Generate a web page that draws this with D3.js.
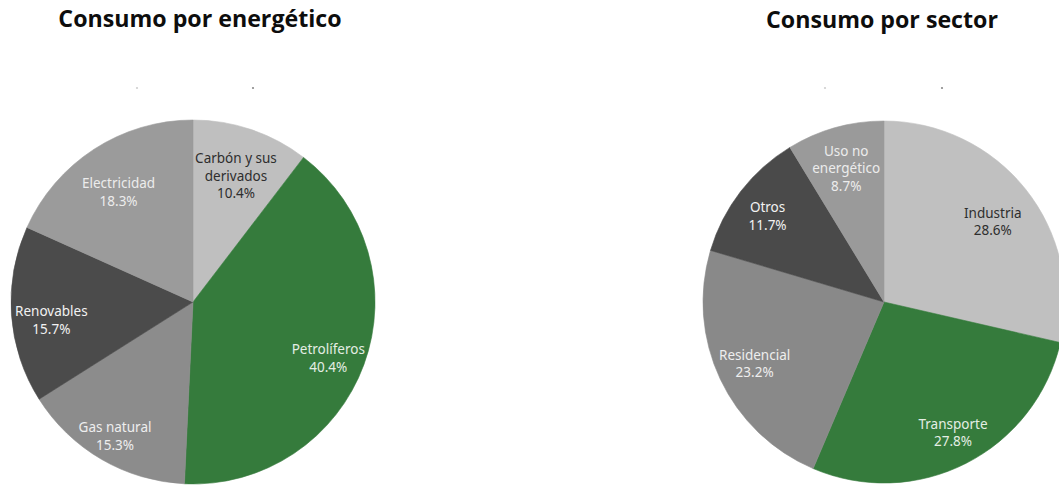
<!DOCTYPE html>
<html lang="es">
<head>
<meta charset="utf-8">
<script src="https://cdn.jsdelivr.net/npm/d3@7"></script>
<style>
  html, body { margin: 0; padding: 0; background: #ffffff; }
  svg { display: block; }
</style>
</head>
<body>
<svg id="chart" width="1059" height="486"></svg>
<script>
// Consumo por energético
const energeticos = ["Carbón y sus derivados", "Petrolíferos", "Gas natural", "Renovables", "Electricidad"];
const energeticoLines = [["Carbón y sus", "derivados"], ["Petrolíferos"], ["Gas natural"], ["Renovables"], ["Electricidad"]];
const energeticoValores = [10.4, 40.4, 15.3, 15.7, 18.3];

// Consumo por sector
const sectores = ["Industria", "Transporte", "Residencial", "Otros", "Uso no energético"];
const sectorLines = [["Industria"], ["Transporte"], ["Residencial"], ["Otros"], ["Uso no", "energético"]];
const sectorValores = [28.6, 27.8, 23.2, 11.7, 8.7];

// slice and label styling
const energeticoColores = ["#bfbfbf", "#357b3c", "#8c8c8c", "#4b4b4b", "#9b9b9b"];
const energeticoTexto = ["#2e2e2e", "#e4eee4", "#eeeeee", "#f2f2f2", "#ececec"];
const sectorColores = ["#c0c0c0", "#357b3c", "#898989", "#4a4a4a", "#9a9a9a"];
const sectorTexto = ["#2e2e2e", "#e4eee4", "#eeeeee", "#f2f2f2", "#ececec"];

// label placement: distance from the pie centre and a small vertical nudge
const energeticoLabelR = [134, 144, 155, 142, 137];
const energeticoLabelDy = [1, 7, 0, 8, 5];
const sectorLabelR = [139, 152, 143, 147, 140];
const sectorLabelDy = [6, -5, 1, 4, 1];

const svg = d3.select("#chart");

function drawPie(cfg) {
  const g = svg.append("g").attr("transform", `translate(${cfg.cx},${cfg.cy})`);

  const pie = d3.pie().sort(null).value(d => d.value);
  const arc = d3.arc().innerRadius(0).outerRadius(cfg.r);

  const data = cfg.names.map((n, i) => ({
    name: n, lines: cfg.lines[i], value: cfg.values[i],
    fill: cfg.colors[i], ink: cfg.ink[i], lr: cfg.labelR[i], ldy: cfg.labelDy[i]
  }));
  const arcs = pie(data);

  g.selectAll("path.slice")
    .data(arcs)
    .join("path")
    .attr("class", "slice")
    .attr("d", arc)
    .attr("fill", d => d.data.fill)
    .attr("stroke", d => d.data.fill)
    .attr("stroke-width", 0.6);

  const lineH = 17.5;
  const fs = 13.5;
  const labels = g.selectAll("text.lbl")
    .data(arcs)
    .join("text")
    .attr("class", "lbl")
    .attr("text-anchor", "middle")
    .attr("font-family", "'Noto Sans', 'Open Sans', sans-serif")
    .attr("font-size", fs)
    .attr("fill", d => d.data.ink)
    .attr("transform", d => {
      const la = d3.arc().innerRadius(d.data.lr).outerRadius(d.data.lr);
      const [x, y] = la.centroid(d);
      const n = d.data.lines.length + 1;
      return `translate(${x},${y + d.data.ldy - (n - 1) * lineH / 2 + fs * 0.36})`;
    });

  labels.each(function(d) {
    const t = d3.select(this);
    const rows = d.data.lines.concat([d3.format(".1f")(d.data.value) + "%"]);
    rows.forEach((row, i) => {
      t.append("tspan").attr("x", 0).attr("y", i * lineH).text(row);
    });
  });

  svg.append("text")
    .attr("x", cfg.titleX)
    .attr("y", cfg.titleY)
    .attr("text-anchor", "middle")
    .attr("font-family", "'Open Sans', Lato, sans-serif")
    .attr("font-weight", 700)
    .attr("font-size", 23.2)
    .attr("fill", "#0d0d0d")
    .text(cfg.title);

  // faint marks above each pie
  svg.selectAll(null)
    .data(cfg.marks)
    .join("circle")
    .attr("cx", d => cfg.cx + d[0])
    .attr("cy", 88)
    .attr("r", 1.1)
    .attr("fill", d => d[1]);
}

drawPie({
  cx: 193, cy: 302, r: 182,
  names: energeticos, lines: energeticoLines, values: energeticoValores,
  colors: energeticoColores, ink: energeticoTexto,
  labelR: energeticoLabelR, labelDy: energeticoLabelDy,
  title: "Consumo por energético", titleX: 200, titleY: 27,
  marks: [[-56, "#cfcfcf"], [60, "#8a8a8a"]]
});

drawPie({
  cx: 884, cy: 302, r: 181,
  names: sectores, lines: sectorLines, values: sectorValores,
  colors: sectorColores, ink: sectorTexto,
  labelR: sectorLabelR, labelDy: sectorLabelDy,
  title: "Consumo por sector", titleX: 882, titleY: 28,
  marks: [[-59, "#cfcfcf"], [58, "#8a8a8a"]]
});
</script>
</body>
</html>
